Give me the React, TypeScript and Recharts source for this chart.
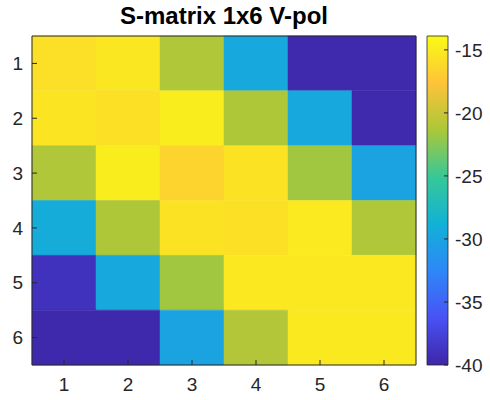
import React from 'react';
import { ScatterChart, ComposedChart, Scatter, XAxis, YAxis, ReferenceArea } from 'recharts';

const title = 'S-matrix 1x6 V-pol';
const colLabels = [1, 2, 3, 4, 5, 6];
const rowLabels = [1, 2, 3, 4, 5, 6];

const row1 = [-15.8, -15.3, -21.2, -29.6, -39.7, -39.7];
const row2 = [-15.4, -15.7, -14.8, -21.3, -29.6, -39.7];
const row3 = [-21.2, -14.8, -16.6, -15.5, -21.7, -30.1];
const row4 = [-29.3, -21.3, -15.5, -15.7, -15.0, -21.2];
const row5 = [-39.0, -29.6, -21.7, -15.2, -15.2, -15.2];
const row6 = [-39.8, -39.8, -30.1, -21.0, -15.1, -15.1];
const rows = [row1, row2, row3, row4, row5, row6];

const colorTicks = [-40, -35, -30, -25, -20, -15];
const cMin = -40;
const cMax = -13.9;

// parula colormap stops
const parulaStops: [number, number[]][] = [
  [0.0, [0.2422, 0.1504, 0.6603]],
  [1 / 7, [0.281, 0.3228, 0.9579]],
  [2 / 7, [0.1786, 0.5289, 0.9682]],
  [3 / 7, [0.0689, 0.6948, 0.8394]],
  [4 / 7, [0.2161, 0.7843, 0.5923]],
  [5 / 7, [0.672, 0.7793, 0.2227]],
  [6 / 7, [0.997, 0.7659, 0.2199]],
  [1.0, [0.9769, 0.9839, 0.0805]],
];

function toHex(c: number[]) {
  return '#' + c.map((v) => Math.round(Math.max(0, Math.min(1, v)) * 255).toString(16).padStart(2, '0')).join('');
}

function parula(t: number) {
  const tt = Math.max(0, Math.min(1, t));
  for (let i = 0; i < parulaStops.length - 1; i++) {
    const [t0, c0] = parulaStops[i];
    const [t1, c1] = parulaStops[i + 1];
    if (tt <= t1) {
      const f = (tt - t0) / (t1 - t0);
      return toHex(c0.map((v, k) => v + f * (c1[k] - v)));
    }
  }
  return toHex(parulaStops[parulaStops.length - 1][1]);
}

function colorFor(v: number) {
  return parula((v - cMin) / (cMax - cMin));
}

const cells = rows.flatMap((vals, r) =>
  vals.map((v, c) => ({ x: colLabels[c], y: rowLabels[r], value: v }))
);

const FONT = '"Liberation Sans", Arial, sans-serif';
const AX = '#262626';
const tickStyle = { fill: AX, fontSize: 19, fontFamily: FONT };

const Empty = () => <g />;

export default function App() {
  return (
    <div style={{ position: 'fixed', left: 0, top: 0, width: 490, height: 400, background: '#fff' }}>
      <svg width={0} height={0} style={{ position: 'absolute' }}>
        <defs>
          <linearGradient id="parulaGrad" x1="0" y1="1" x2="0" y2="0">
            {parulaStops.map(([t, c]) => (
              <stop key={t} offset={t} stopColor={toHex(c)} />
            ))}
          </linearGradient>
        </defs>
      </svg>
      <div
        style={{
          position: 'absolute',
          left: 0,
          top: 4,
          width: 448,
          textAlign: 'center',
          fontFamily: FONT,
          fontWeight: 'bold',
          fontSize: 24,
          lineHeight: '24px',
          color: '#000',
        }}
      >
        {title}
      </div>
      <div style={{ position: 'absolute', left: 0, top: 0 }}>
        <ScatterChart width={430} height={400} margin={{ top: 35, right: 13, bottom: 0, left: 0 }}>
          {cells.map((cell) => (
            <ReferenceArea
              key={`${cell.x}-${cell.y}`}
              x1={cell.x - 0.5}
              x2={cell.x + 0.5}
              y1={cell.y - 0.5}
              y2={cell.y + 0.5}
              fill={colorFor(cell.value)}
              fillOpacity={1}
              stroke={colorFor(cell.value)}
              strokeWidth={0.5}
              ifOverflow="visible"
            />
          ))}
          <Scatter data={cells} dataKey="y" shape={Empty} isAnimationActive={false} />
          <XAxis
            type="number"
            dataKey="x"
            domain={[0.5, 6.5]}
            ticks={colLabels}
            allowDataOverflow
            height={35}
            tickSize={-5}
            tickMargin={18}
            stroke={AX}
            tick={tickStyle}
          />
          <XAxis
            xAxisId="top"
            orientation="top"
            type="number"
            dataKey="x"
            domain={[0.5, 6.5]}
            ticks={colLabels}
            allowDataOverflow
            height={1}
            tickSize={-5}
            stroke={AX}
            tick={false}
          />
          <YAxis
            type="number"
            dataKey="y"
            domain={[0.5, 6.5]}
            ticks={rowLabels}
            reversed
            allowDataOverflow
            width={32}
            tickSize={-5}
            tickMargin={14}
            stroke={AX}
            tick={tickStyle}
          />
          <YAxis
            yAxisId="right"
            orientation="right"
            type="number"
            dataKey="y"
            domain={[0.5, 6.5]}
            ticks={rowLabels}
            reversed
            allowDataOverflow
            width={1}
            tickSize={-5}
            stroke={AX}
            tick={false}
          />
        </ScatterChart>
      </div>
      <div style={{ position: 'absolute', left: 420, top: 0 }}>
        <ComposedChart width={70} height={400} margin={{ top: 36, right: 0, bottom: 35, left: 7 }}>
          <ReferenceArea
            x1={0}
            x2={1}
            y1={cMin}
            y2={cMax}
            fill="url(#parulaGrad)"
            fillOpacity={1}
            stroke={AX}
            strokeWidth={0.8}
            ifOverflow="visible"
          />
          <XAxis type="number" dataKey="x" domain={[0, 1]} allowDataOverflow hide />
          <YAxis
            orientation="right"
            type="number"
            domain={[cMin, cMax]}
            ticks={colorTicks}
            allowDataOverflow
            width={42}
            tickSize={-4}
            tickMargin={11}
            axisLine={false}
            stroke={AX}
            tick={tickStyle}
          />
        </ComposedChart>
      </div>
    </div>
  );
}
